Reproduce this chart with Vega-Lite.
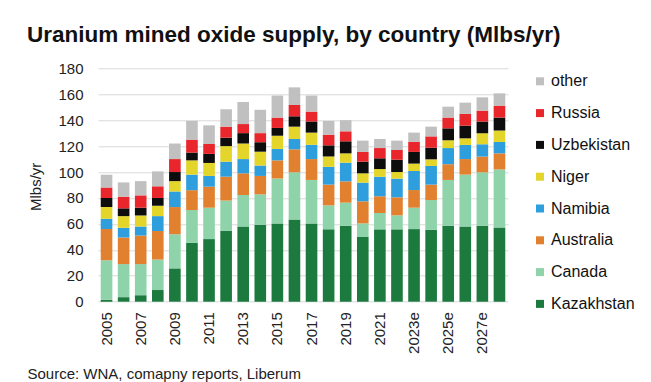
{
  "$schema": "https://vega.github.io/schema/vega-lite/v6.json",
  "autosize": {"type": "none"},
  "width": 410,
  "height": 233.4,
  "padding": {"left": 98, "top": 68.3, "right": 143, "bottom": 80.3},
  "background": "white",
  "title": {
    "text": "Uranium mined oxide supply, by country (Mlbs/yr)",
    "anchor": "start",
    "frame": "group",
    "dx": -71,
    "offset": -3,
    "baseline": "alphabetic",
    "font": "Liberation Sans",
    "fontSize": 22.5,
    "fontWeight": "bold",
    "color": "#111111"
  },
  "data": {
    "values": [
      {"year": "2005", "Kazakhstan": 1.5, "Canada": 30.5, "Australia": 24, "Namibia": 8, "Niger": 9, "Uzbekistan": 7, "Russia": 8, "other": 10},
      {"year": "2006", "Kazakhstan": 3.5, "Canada": 25.5, "Australia": 20.5, "Namibia": 7.5, "Niger": 9, "Uzbekistan": 6, "Russia": 9, "other": 11},
      {"year": "2007", "Kazakhstan": 5, "Canada": 24, "Australia": 22, "Namibia": 7, "Niger": 8.5, "Uzbekistan": 6, "Russia": 9.5, "other": 11},
      {"year": "2008", "Kazakhstan": 9, "Canada": 23.5, "Australia": 22, "Namibia": 11.5, "Niger": 8, "Uzbekistan": 6, "Russia": 9, "other": 11.5},
      {"year": "2009", "Kazakhstan": 25.7, "Canada": 26.3, "Australia": 21, "Namibia": 12, "Niger": 8, "Uzbekistan": 7, "Russia": 10, "other": 12},
      {"year": "2010", "Kazakhstan": 45.5, "Canada": 25.2, "Australia": 15.3, "Namibia": 12, "Niger": 11, "Uzbekistan": 6, "Russia": 10, "other": 14.5},
      {"year": "2011", "Kazakhstan": 48.3, "Canada": 24.2, "Australia": 16.2, "Namibia": 8.3, "Niger": 10, "Uzbekistan": 7, "Russia": 7.6, "other": 14.4},
      {"year": "2012", "Kazakhstan": 54.8, "Canada": 23.2, "Australia": 18.4, "Namibia": 11.6, "Niger": 12, "Uzbekistan": 6.5, "Russia": 8.5, "other": 13.4},
      {"year": "2013", "Kazakhstan": 58, "Canada": 24.3, "Australia": 16.7, "Namibia": 11, "Niger": 12, "Uzbekistan": 8, "Russia": 7, "other": 17},
      {"year": "2014", "Kazakhstan": 59.4, "Canada": 23.4, "Australia": 14.2, "Namibia": 8, "Niger": 10.7, "Uzbekistan": 7.3, "Russia": 7, "other": 18},
      {"year": "2015", "Kazakhstan": 60.4, "Canada": 34.6, "Australia": 14, "Namibia": 8.8, "Niger": 10.2, "Uzbekistan": 6, "Russia": 8, "other": 17},
      {"year": "2016", "Kazakhstan": 63.3, "Canada": 36.5, "Australia": 17.7, "Namibia": 8, "Niger": 9.5, "Uzbekistan": 8, "Russia": 8.7, "other": 13.6},
      {"year": "2017", "Kazakhstan": 60.4, "Canada": 33.5, "Australia": 16.1, "Namibia": 11, "Niger": 9.4, "Uzbekistan": 8.6, "Russia": 7.6, "other": 12.4},
      {"year": "2018", "Kazakhstan": 55.8, "Canada": 18.5, "Australia": 16, "Namibia": 13.7, "Niger": 8, "Uzbekistan": 8.6, "Russia": 8.2, "other": 10.6},
      {"year": "2019", "Kazakhstan": 58.6, "Canada": 17.8, "Australia": 16.4, "Namibia": 14.4, "Niger": 7.2, "Uzbekistan": 9.3, "Russia": 7.7, "other": 8.6},
      {"year": "2020", "Kazakhstan": 49.9, "Canada": 10.5, "Australia": 17, "Namibia": 14.4, "Niger": 7.2, "Uzbekistan": 9, "Russia": 7.5, "other": 8.7},
      {"year": "2021", "Kazakhstan": 55.8, "Canada": 12.6, "Australia": 12.9, "Namibia": 15.1, "Niger": 5.9, "Uzbekistan": 8.3, "Russia": 7.9, "other": 7},
      {"year": "2022", "Kazakhstan": 55.8, "Canada": 10.8, "Australia": 13.9, "Namibia": 14.4, "Niger": 5.1, "Uzbekistan": 9.5, "Russia": 7.5, "other": 7.2},
      {"year": "2023e", "Kazakhstan": 56, "Canada": 16.5, "Australia": 13.6, "Namibia": 14.7, "Niger": 5.7, "Uzbekistan": 9, "Russia": 7.9, "other": 7},
      {"year": "2024e", "Kazakhstan": 55.5, "Canada": 22.9, "Australia": 11.9, "Namibia": 14.4, "Niger": 5.1, "Uzbekistan": 9, "Russia": 8.7, "other": 7.5},
      {"year": "2025e", "Kazakhstan": 58.6, "Canada": 35.3, "Australia": 12.1, "Namibia": 12.5, "Niger": 6, "Uzbekistan": 9.2, "Russia": 8.3, "other": 8.4},
      {"year": "2026e", "Kazakhstan": 57.9, "Canada": 40.1, "Australia": 12, "Namibia": 10.9, "Niger": 5.1, "Uzbekistan": 9.8, "Russia": 9, "other": 8.7},
      {"year": "2027e", "Kazakhstan": 58.6, "Canada": 41.2, "Australia": 12.1, "Namibia": 9.5, "Niger": 8.5, "Uzbekistan": 9, "Russia": 8.4, "other": 10.3},
      {"year": "2028e", "Kazakhstan": 57.3, "Canada": 44.7, "Australia": 12.4, "Namibia": 8.8, "Niger": 8.8, "Uzbekistan": 10, "Russia": 9.2, "other": 9.5}
    ]
  },
  "transform": [
    {"fold": ["Kazakhstan", "Canada", "Australia", "Namibia", "Niger", "Uzbekistan", "Russia", "other"], "as": ["country", "value"]},
    {"calculate": "indexof(['Kazakhstan','Canada','Australia','Namibia','Niger','Uzbekistan','Russia','other'], datum.country)", "as": "rank"}
  ],
  "mark": {"type": "bar"},
  "encoding": {
    "x": {
      "field": "year",
      "type": "ordinal",
      "sort": null,
      "scale": {"paddingInner": 0.32, "paddingOuter": 0.16},
      "axis": {
        "values": ["2005", "2007", "2009", "2011", "2013", "2015", "2017", "2019", "2021", "2023e", "2025e", "2027e"],
        "labelAngle": -90,
        "labelAlign": "right",
        "labelBaseline": "middle",
        "labelPadding": 10,
        "labelFont": "Liberation Sans",
        "labelFontSize": 15,
        "labelColor": "#222222",
        "ticks": false,
        "domain": false,
        "title": "Source: WNA, comapny reports, Liberum",
        "titleFont": "Liberation Sans",
        "titleFontSize": 15,
        "titleFontWeight": "normal",
        "titleColor": "#222222",
        "titleAnchor": "start",
        "titleAlign": "left",
        "titleBaseline": "alphabetic",
        "titleX": -71,
        "titleY": 77
      }
    },
    "y": {
      "field": "value",
      "type": "quantitative",
      "stack": "zero",
      "scale": {"domain": [0, 180]},
      "axis": {
        "values": [0, 20, 40, 60, 80, 100, 120, 140, 160, 180],
        "grid": true,
        "gridColor": "#d9d9d9",
        "gridWidth": 1,
        "ticks": false,
        "domain": false,
        "labelPadding": 15,
        "labelFont": "Liberation Sans",
        "labelFontSize": 15,
        "labelColor": "#222222",
        "title": "Mlbs/yr",
        "titleFont": "Liberation Sans",
        "titleFontSize": 15,
        "titleFontWeight": "normal",
        "titleColor": "#222222",
        "titleAngle": -90,
        "titleBaseline": "middle",
        "titleAlign": "center",
        "titleX": -63,
        "titleY": 118
      }
    },
    "color": {
      "field": "country",
      "type": "nominal",
      "scale": {
        "domain": ["other", "Russia", "Uzbekistan", "Niger", "Namibia", "Australia", "Canada", "Kazakhstan"],
        "range": ["#c0c0c0", "#e8262b", "#0d0d0d", "#e3d52a", "#2f9edc", "#e1802f", "#8ed3a9", "#1c7a3e"]
      },
      "legend": {
        "orient": "none",
        "legendX": 434,
        "legendY": 5,
        "title": null,
        "symbolType": "square",
        "symbolSize": 64,
        "symbolStrokeWidth": 0,
        "labelFont": "Liberation Sans",
        "labelFontSize": 16,
        "labelColor": "#111111",
        "labelOffset": 3,
        "rowPadding": 15.8,
        "labelLimit": 200
      }
    },
    "order": {"field": "rank", "type": "quantitative", "sort": "ascending"}
  },
  "config": {
    "view": {"stroke": null}
  }
}
